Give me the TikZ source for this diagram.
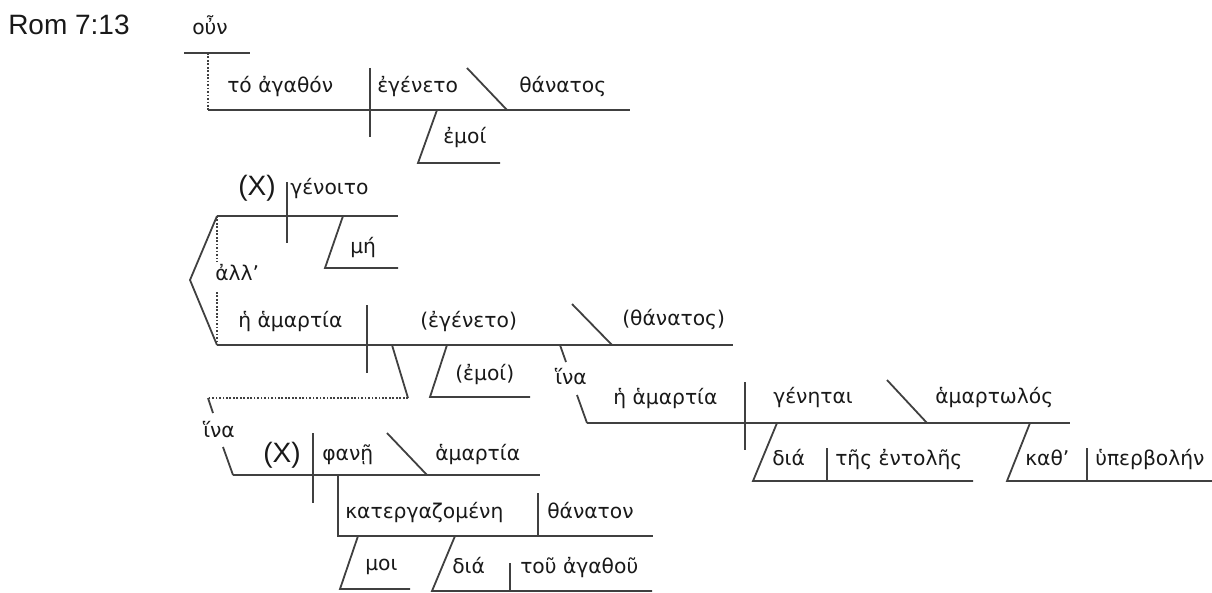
\documentclass[tikz,border=0pt]{standalone}
\usepackage{fontspec}
\newfontfamily\grkfont{DejaVu Sans}
\newfontfamily\arialfont{Liberation Sans}
\usepackage{tikz}

\begin{document}
\begin{tikzpicture}[
  x=0.75pt, y=-0.75pt,
  grk/.style={anchor=base west, inner sep=0pt, font=\grkfont\fontsize{15.2}{18}\selectfont, text=black!90},
  lat/.style={anchor=base west, inner sep=0pt, font=\arialfont\fontsize{21}{25}\selectfont, text=black!90},
  ln/.style={line width=1.35pt, draw=black!75},
  dots/.style={ln, dash pattern=on 1.3pt off 1.3pt}
]
\useasboundingbox (0,0) rectangle (1212,592);

\node[lat] (ref) at (8,35) {Rom 7:13};

% first clause
\node[grk] (oun) at (192,35) {οὖν};
\draw[ln] (184,53) -- (250,53);
\draw[dots] (208,53) -- (208,110);
\draw[ln] (208,110) -- (630,110);
\draw[ln] (370,68) -- (370,137);
\draw[ln] (467,68) -- (507,110);
\draw[ln] (437,110) -- (418,163) -- (500,163);
\node[grk] (toagathon) at (227,92) {τό ἀγαθόν};
\node[grk] (egeneto) at (377,92) {ἐγένετο};
\node[grk] (thanatos) at (519,92) {θάνατος};
\node[grk] (emoi) at (443,143) {ἐμοί};

% mh genoito
\draw[ln] (217,216) -- (398,216);
\draw[ln] (287,182) -- (287,243);
\draw[ln] (343,216) -- (325,268) -- (398,268);
\node[lat] (xa) at (238,195) {(X)};
\node[grk] (genoito) at (290,194) {γένοιτο};
\node[grk] (mh) at (350,253) {μή};

% alla
\draw[ln] (217,216) -- (190,280) -- (217,345);
\draw[dots] (217,216) -- (217,262);
\draw[dots] (217,292) -- (217,345);
\node[grk] (alla) at (215,280) {ἀλλ’};

% second clause
\draw[ln] (217,345) -- (733,345);
\draw[ln] (367,305) -- (367,373);
\draw[ln] (572,304) -- (612,345);
\draw[ln] (447,345) -- (430,397) -- (530,397);
\node[grk] (hamartiaa) at (238,327) {ἡ ἁμαρτία};
\node[grk] (egenetob) at (420,327) {(ἐγένετο)};
\node[grk] (thanatosb) at (622,325) {(θάνατος)};
\node[grk] (emoib) at (455,380) {(ἐμοί)};

% hina, right
\draw[ln] (560,345) -- (566,362);
\draw[ln] (577,395) -- (587,423);
\node[grk] (hinaa) at (555,384) {ἵνα};
\draw[ln] (587,423) -- (1070,423);
\draw[ln] (745,382) -- (745,450);
\draw[ln] (887,380) -- (927,423);
\node[grk] (hamartiab) at (613,404) {ἡ ἁμαρτία};
\node[grk] (genhtai) at (773,403) {γένηται};
\node[grk] (hamartwlos) at (935,403) {ἁμαρτωλός};
\draw[ln] (777,423) -- (753,481) -- (973,481);
\draw[ln] (827,448) -- (827,481);
\node[grk] (diaa) at (772,465) {διά};
\node[grk] (entolhs) at (835,465) {τῆς ἐντολῆς};
\draw[ln] (1030,423) -- (1007,481) -- (1212,481);
\draw[ln] (1087,448) -- (1087,481);
\node[grk] (kath) at (1025,465) {καθ’};
\node[grk] (hyperbolhn) at (1095,465) {ὑπερβολήν};

% hina, left
\draw[ln] (392,345) -- (408,398);
\draw[dots] (408,398) -- (208,398);
\draw[ln] (208,398) -- (213,413);
\draw[ln] (223,447) -- (233,475);
\node[grk] (hinab) at (203,437) {ἵνα};
\draw[ln] (233,475) -- (540,475);
\draw[ln] (313,433) -- (313,503);
\draw[ln] (387,433) -- (427,475);
\node[lat] (xb) at (263,462) {(X)};
\node[grk] (phanh) at (322,460) {φανῇ};
\node[grk] (hamartiac) at (435,460) {ἁμαρτία};
\draw[ln] (338,475) -- (338,536) -- (653,536);
\draw[ln] (538,493) -- (538,536);
\node[grk] (katerg) at (345,518) {κατεργαζομένη};
\node[grk] (thanaton) at (547,518) {θάνατον};
\draw[ln] (358,536) -- (340,589) -- (410,589);
\node[grk] (moi) at (365,570) {μοι};
\draw[ln] (455,536) -- (432,591) -- (652,591);
\draw[ln] (510,563) -- (510,592);
\node[grk] (diab) at (452,573) {διά};
\node[grk] (agathou) at (520,573) {τοῦ ἀγαθοῦ};

\end{tikzpicture}
\end{document}
